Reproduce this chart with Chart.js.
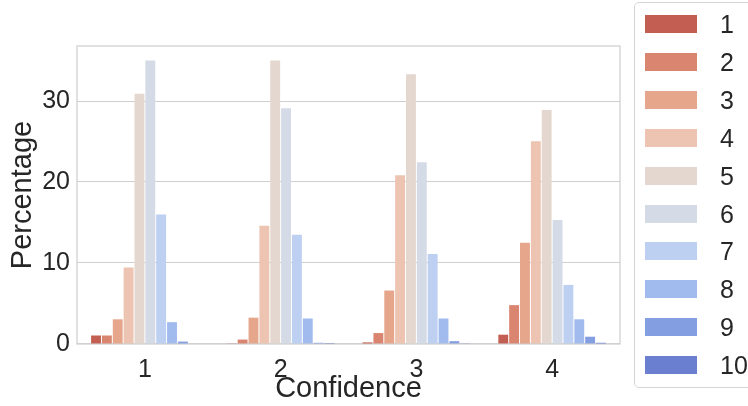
<!DOCTYPE html>
<html>
<head>
<meta charset="utf-8">
<script src="https://cdn.jsdelivr.net/npm/chart.js@4"></script>
<style>
    body { margin: 0; background: #fff; }
    #wrap { position: relative; width: 748px; height: 406px; overflow: hidden; }
    #legend {
        position: absolute; left: 634px; top: 2px; width: 130px; height: 386px;
        border: 1px solid #d5d5d5; border-radius: 5px; box-sizing: border-box;
        font-family: "Liberation Sans", Arial, sans-serif; font-size: 25px; color: #262626;
    }
    .item { position: absolute; left: 10px; height: 18px; }
    .item span.box { position: absolute; left: 0; top: 0; width: 52px; height: 18px; }
    .item span.txt { position: absolute; left: 75px; top: -6px; line-height: 30px; }
</style>
</head>
<body>
<div id="wrap">
    <canvas id="barChart"></canvas>
    <div id="legend"></div>
</div>
<script>
const confidence = ['1', '2', '3', '4'];
const ratings = ['1', '2', '3', '4', '5', '6', '7', '8', '9', '10'];
const yTicks = [0, 10, 20, 30];

// percentage per rating, one entry per confidence level
const rating1 = [1.05, 0.05, 0.2, 1.15];
const rating2 = [1.05, 0.55, 1.35, 4.8];
const rating3 = [3.05, 3.25, 6.6, 12.5];
const rating4 = [9.45, 14.6, 20.85, 25.05];
const rating5 = [30.9, 35.0, 33.3, 28.9];
const rating6 = [35.0, 29.1, 22.45, 15.3];
const rating7 = [16.0, 13.5, 11.1, 7.3];
const rating8 = [2.7, 3.15, 3.15, 3.05];
const rating9 = [0.3, 0.15, 0.35, 0.9];
const rating10 = [0.0, 0.02, 0.05, 0.15];

const ratingValues = [rating1, rating2, rating3, rating4, rating5, rating6, rating7, rating8, rating9, rating10];

const barColors = ['#c35f52', '#d9856f', '#e5a68c', '#ecc4b1', '#e4d7cf',
                   '#d4dbe6', '#bdd0f1', '#a2bbef', '#849fe1', '#6a7fd0'];

const FONT = '"Liberation Sans", Arial, sans-serif';
const TEXT = '#262626';

// draws the four light spines round the plot
const frame = {
    id: 'frame',
    beforeDatasetsDraw(chart) {
        const a = chart.chartArea;
        const c = chart.ctx;
        c.save();
        c.strokeStyle = '#d0d0d0';
        c.lineWidth = 1.25;
        c.strokeRect(a.left, a.top, a.right - a.left, a.bottom - a.top);
        c.restore();
    }
};

document.addEventListener('DOMContentLoaded', () => {

    const ctx = document.getElementById('barChart');
    const chart = new Chart(ctx, {
        type: 'bar',
        data: {
            labels: confidence,
            datasets: ratings.map((r, i) => ({
                label: r,
                data: ratingValues[i],
                backgroundColor: barColors[i],
                borderWidth: 0,
                categoryPercentage: 0.8,
                barPercentage: 0.91
            }))
        },
        plugins: [frame],
        options: {
            responsive: true,
            maintainAspectRatio: false,
            animation: false,
            layout: {
                padding: { left: 0, top: 46, right: 128, bottom: 0 }
            },
            plugins: {
                legend: { display: false },
                tooltip: { enabled: false }
            },
            scales: {
                x: {
                    afterFit: (scale) => { scale.height = 62; },
                    grid: { display: false },
                    border: { display: false },
                    ticks: {
                        padding: 3,
                        color: TEXT,
                        font: { family: FONT, size: 25 }
                    },
                    title: {
                        display: true,
                        text: 'Confidence',
                        color: TEXT,
                        padding: { top: 0, bottom: 0 },
                        font: { family: FONT, size: 29 }
                    }
                },
                y: {
                    min: 0,
                    max: 36.8,
                    afterFit: (scale) => { scale.width = 77; },
                    afterBuildTicks: (scale) => {
                        scale.ticks = yTicks.map(v => ({ value: v }));
                    },
                    grid: {
                        color: '#cfcfcf',
                        lineWidth: 1.1,
                        drawTicks: false
                    },
                    border: { display: false },
                    ticks: {
                        padding: 7,
                        color: TEXT,
                        font: { family: FONT, size: 25 }
                    },
                    title: {
                        display: true,
                        text: 'Percentage',
                        color: TEXT,
                        padding: { top: 6, bottom: 0 },
                        font: { family: FONT, size: 29 }
                    }
                }
            }
        }
    });

    // legend built from the chart's own datasets
    const legend = document.getElementById('legend');
    chart.data.datasets.forEach((ds, i) => {
        const item = document.createElement('div');
        item.className = 'item';
        item.style.top = (12 + i * 37.9) + 'px';
        item.innerHTML = '<span class="box" style="background:' + ds.backgroundColor + '"></span>' +
            '<span class="txt">' + ds.label + '</span>';
        legend.appendChild(item);
    });
});
</script>
</body>
</html>
